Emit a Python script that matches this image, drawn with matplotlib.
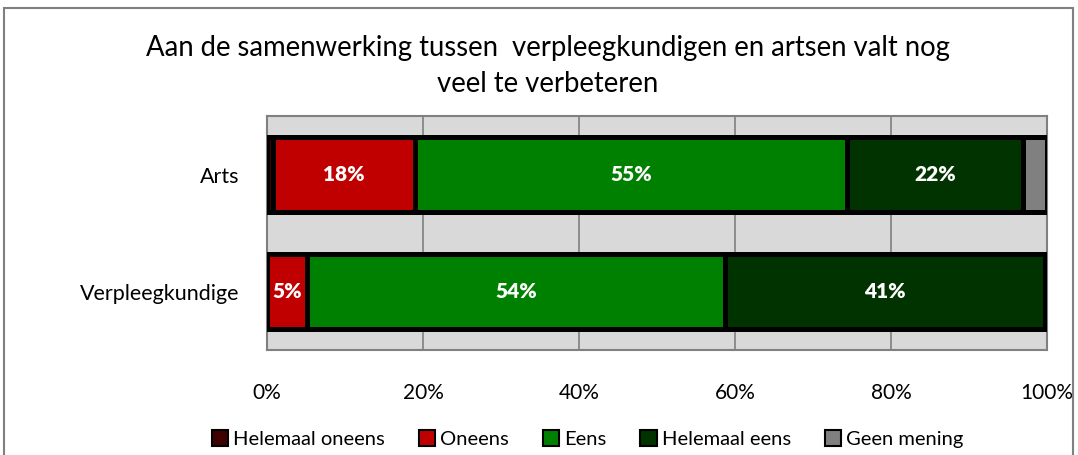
import numpy as np
import matplotlib.pyplot as plt
from matplotlib.patches import Rectangle

categories = ['Verpleegkundige', 'Arts']
series = ['Helemaal oneens', 'Oneens', 'Eens', 'Helemaal eens', 'Geen mening']
colors = ['#3f0000', '#c00000', '#008000', '#003300', '#808080']

helemaal_oneens = [0.0, 0.8]
oneens = [5.1, 18.2]
eens = [53.6, 55.4]
helemaal_eens = [41.0, 22.5]
geen_mening = [0.3, 3.1]

values = [helemaal_oneens, oneens, eens, helemaal_eens, geen_mening]
min_label = 4

plt.rcParams['font.family'] = ['Lato', 'DejaVu Sans']

fig = plt.figure(figsize=(10.78, 4.55), dpi=100)
ax = fig.add_axes([267 / 1078, 1 - 350 / 455, 780 / 1078, 234 / 455])
ax.set_facecolor('#d9d9d9')

y = np.arange(len(categories))
left = np.zeros(len(categories))
for name, vals, col in zip(series, values, colors):
    vals = np.array(vals)
    ax.barh(y, vals, left=left, height=0.64, color=col, edgecolor='black',
            linewidth=3.6, label=name, zorder=3)
    for yi, (l, v) in enumerate(zip(left, vals)):
        if v >= min_label:
            ax.text(l + v / 2, yi, f'{v:.0f}%', ha='center', va='center',
                    color='white', fontsize=15, fontweight='heavy', zorder=4)
    left += vals

ax.set_xlim(0, 100)
ax.set_ylim(-0.5, 1.5)
ax.set_xticks(np.arange(0, 101, 20))
ax.set_xticklabels([f'{t}%' for t in range(0, 101, 20)], fontsize=15)
ax.set_yticks(y)
ax.set_yticklabels(categories, fontsize=15.5)
ax.tick_params(length=0, pad=24, axis='x')
ax.tick_params(length=0, pad=20, axis='y')
ax.grid(axis='x', color='#808080', linewidth=1.2, zorder=1)
for s in ax.spines.values():
    s.set_color('#808080')
    s.set_linewidth(1.5)

fig.text(548 / 1078, 1 - 48 / 455, 'Aan de samenwerking tussen  verpleegkundigen en artsen valt nog',
         ha='center', va='center', fontsize=19.8)
fig.text(548 / 1078, 1 - 84 / 455, 'veel te verbeteren', ha='center', va='center', fontsize=19.8)

leg = fig.legend(loc='center', bbox_to_anchor=(0.545, 1 - 439 / 455), ncol=5,
                 frameon=False, fontsize=14.5, handlelength=0.8, handleheight=0.8,
                 handletextpad=0.25, columnspacing=1.7)
for h in leg.legend_handles:
    h.set_linewidth(1.5)

fig.patches.append(Rectangle((4 / 1078, -0.1), 1069 / 1078, 1.1 - 8 / 455,
                             transform=fig.transFigure, fill=False,
                             edgecolor='#808080', linewidth=1.5))

fig.savefig('out.png', dpi=100)
